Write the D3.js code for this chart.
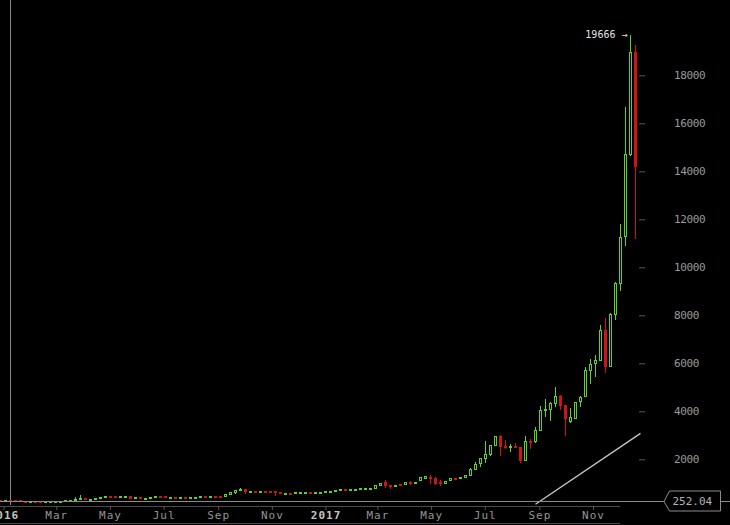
<!DOCTYPE html>
<html>
<head>
<meta charset="utf-8">
<script src="https://cdn.jsdelivr.net/npm/d3@7"></script>
<style>
  html, body { margin: 0; padding: 0; background: #000; }
  svg { display: block; }
</style>
</head>
<body>
<svg id="chart" width="730" height="525"></svg>
<script>
// ---- data (weekly candles, Bitstamp-style BTC/USD) ----
const firstWeek = new Date(Date.UTC(2015, 6, 13));
const lastWeek = new Date(Date.UTC(2017, 11, 18));
const weeks = d3.utcMonday.range(firstWeek, new Date(Date.UTC(2017, 11, 19)));

const open = [285,274,280,278,263,262,225,232,230,229,232,233,238,245,268,285,330,380,325,335,360,390,458,450,428,438,
  450,385,410,372,380,405,440,430,410,418,412,418,415,422,428,458,450,458,452,442,535,600,680,760,655,670,650,670,665,650,
  600,585,595,612,615,620,628,618,622,630,640,660,705,730,710,738,755,770,785,800,910,1020,915,890,930,940,1015,1000,1125,1192,
  1250,1215,1050,985,1105,1210,1195,1255,1340,1580,1820,2030,2180,2570,2960,2530,2495,2525,2510,1945,2750,2740,3220,4050,4090,4330,
  4630,4230,3560,3720,4390,4600,5690,5980,6130,7380,5880,8050,9330,11280,14720,18960];
const high = [295,282,298,282,270,268,236,236,245,236,238,240,248,270,285,415,525,390,345,370,400,465,470,465,440,465,
  460,420,415,395,410,445,445,440,420,422,420,425,425,430,462,468,465,462,458,545,610,690,795,770,700,700,690,680,670,660,
  605,600,600,630,635,630,632,632,640,650,660,725,745,735,750,765,780,795,810,930,1020,1140,920,925,935,1035,1095,1065,1240,1310,
  1355,1245,1140,1100,1225,1225,1265,1345,1625,1875,2070,2760,2600,2980,3010,2800,2625,2665,2530,2985,2845,3360,4220,4500,4400,5020,
  4680,4240,4120,4400,4650,5830,6180,6350,7600,7880,8100,9400,11800,16700,19666,19260];
const low = [268,270,276,258,257,200,200,225,228,222,226,232,235,244,264,280,320,305,315,330,355,385,430,415,418,425,
  360,355,375,365,370,400,405,395,405,405,405,410,412,418,425,440,445,445,435,438,520,575,670,555,620,585,645,645,640,480,
  580,570,570,600,605,605,610,612,615,625,630,650,690,690,700,725,745,760,775,795,890,795,760,870,900,930,930,985,1115,1180,
  985,940,900,975,1095,1160,1185,1245,1330,1560,1670,1860,2140,2540,2150,2430,2320,2460,1860,1935,2430,2700,3200,3780,3600,4160,
  4050,2980,3500,3700,4200,4580,5120,5420,6100,5580,5850,7800,9020,10900,14620,11190];
const close = [274,280,278,263,262,231,232,230,229,232,233,238,245,268,282,330,380,335,335,360,390,440,450,438,438,450,
  385,410,400,380,405,438,430,410,418,412,418,415,422,428,455,450,458,452,442,535,600,680,760,650,670,650,668,665,655,610,
  590,595,585,622,625,626,620,628,632,642,655,705,725,715,740,755,770,785,800,915,1005,915,848,915,920,1020,995,1050,1230,1300,
  1200,990,1030,1095,1210,1190,1250,1335,1555,1800,2030,2180,2580,2960,2530,2495,2520,2505,1945,2750,2720,3220,4050,4090,4330,4630,
  4230,3700,3730,4370,4590,5680,5940,6130,7380,5880,8050,9330,11230,14700,18960,14200];

const yTicks = [2000,4000,6000,8000,10000,12000,14000,16000,18000];
const xTickDates = [[2016,0],[2016,2],[2016,4],[2016,6],[2016,8],[2016,10],[2017,0],[2017,2],[2017,4],[2017,6],[2017,8],[2017,10]]
  .map(([yy,m]) => new Date(Date.UTC(yy, m, 1)));
const monthNames = ["Jan","Feb","Mar","Apr","May","Jun","Jul","Aug","Sep","Oct","Nov","Dec"];
const lastPrice = 252.04;
const trendStart = { date: new Date(Date.UTC(2017, 6, 31)), value: 125 };
const trendEnd = { date: new Date(Date.UTC(2017, 11, 25)), value: 3080 };

// ---- scales ----
const svg = d3.select("#chart");
const W = 730, H = 525;
svg.append("rect").attr("width", W).attr("height", H).attr("fill", "#000");

const x = d3.scaleUtc().domain([firstWeek, lastWeek]).range([0.5, 635.5]);
const y = d3.scaleLinear().domain([0, 18000]).range([507.3, 75.3]);
const xAxisScale = d3.scaleUtc()
  .domain([new Date(Date.UTC(2016,0,1)), new Date(Date.UTC(2017,10,1))])
  .range([3.5, 593]);

const data = weeks.map((d, i) => ({ date: d, o: open[i], h: high[i], l: low[i], c: close[i] }));

const mono = "'DejaVu Sans Mono', 'Liberation Mono', monospace";
const green = "#5fd12d", red = "#d0121b";

// vertical cursor line
svg.append("line").attr("x1", 10.5).attr("x2", 10.5).attr("y1", 0).attr("y2", 505)
  .attr("stroke", "#8a8a8a").attr("stroke-width", 1);

// candles
const cg = svg.append("g").attr("shape-rendering", "crispEdges");
const candle = cg.selectAll("g.c").data(data).join("g").attr("class", "c");
candle.append("line")
  .attr("x1", d => x(d.date)).attr("x2", d => x(d.date))
  .attr("y1", d => y(d.h)).attr("y2", d => y(d.l))
  .attr("stroke", d => d.c >= d.o ? green : red).attr("stroke-width", 1);
candle.each(function(d) {
  const g = d3.select(this);
  const cx = x(d.date);
  const bodyTop = y(Math.max(d.o, d.c)), bodyBot = y(Math.min(d.o, d.c));
  const hgt = Math.max(bodyBot - bodyTop, 1);
  if (d.c >= d.o) {
    g.append("rect").attr("x", cx - 1).attr("width", 2)
      .attr("y", bodyTop).attr("height", hgt)
      .attr("fill", "#000").attr("stroke", green).attr("stroke-width", 1);
  } else {
    g.append("rect").attr("x", cx - 1.5).attr("width", 3)
      .attr("y", bodyTop - 0.5).attr("height", hgt + 1)
      .attr("fill", red);
  }
});

// trend line
svg.append("line")
  .attr("x1", x(trendStart.date)).attr("y1", y(trendStart.value))
  .attr("x2", x(trendEnd.date)).attr("y2", y(trendEnd.value))
  .attr("stroke", "#c8c8c8").attr("stroke-width", 1.3);

// last price line and label
const py = Math.round(y(lastPrice)) + 0.5;
svg.append("line").attr("x1", 0).attr("x2", 664).attr("y1", py).attr("y2", py)
  .attr("stroke", "#8c8c8c").attr("stroke-width", 1);
svg.append("line").attr("x1", 721).attr("x2", 730).attr("y1", py).attr("y2", py)
  .attr("stroke", "#8c8c8c").attr("stroke-width", 1);
svg.append("path")
  .attr("d", `M664,${py} L669.5,${py - 10.5} L720.5,${py - 10.5} L720.5,${py + 9.5} L669.5,${py + 9.5} Z`)
  .attr("fill", "#000").attr("stroke", "#8c8c8c").attr("stroke-width", 1);
svg.append("text").attr("x", 672.5).attr("y", py + 3.5)
  .attr("font-family", mono).attr("font-size", 11).attr("fill", "#b4b4b4")
  .text(lastPrice.toFixed(2));

// y axis
const yAxis = d3.axisRight(y).tickValues(yTicks).tickSize(6).tickPadding(29).tickFormat(d3.format("d"));
const yg = svg.append("g").attr("transform", "translate(639,0)").call(yAxis);
yg.select(".domain").remove();
yg.selectAll(".tick line").attr("stroke", "#555");
yg.selectAll(".tick text").attr("fill", "#9a9a9a").attr("font-family", mono)
  .attr("font-size", 11).attr("letter-spacing", -0.4);

// x axis lines
svg.append("line").attr("x1", 0).attr("x2", 620).attr("y1", 506.5).attr("y2", 506.5).attr("stroke", "#4a4a4a");
svg.append("line").attr("x1", 0).attr("x2", 620).attr("y1", 523.5).attr("y2", 523.5).attr("stroke", "#4a4a4a");

const xAxis = d3.axisBottom(xAxisScale).tickValues(xTickDates).tickSize(4).tickPadding(1)
  .tickFormat(d => d.getUTCMonth() === 0 ? String(d.getUTCFullYear()) : monthNames[d.getUTCMonth()]);
const xg = svg.append("g").attr("transform", "translate(0,506)").call(xAxis);
xg.select(".domain").remove();
xg.selectAll(".tick line").attr("stroke", "#555");
xg.selectAll(".tick text").attr("font-family", mono).attr("font-size", 11).attr("letter-spacing", 1)
  .attr("fill", d => d.getUTCMonth() === 0 ? "#c4c4c4" : "#959595")
  .attr("font-weight", d => d.getUTCMonth() === 0 ? "bold" : "normal");

// high annotation
const peak = data.reduce((a, b) => (b.h > a.h ? b : a));
svg.append("text").attr("x", x(peak.date) - 3).attr("y", y(peak.h) + 3)
  .attr("text-anchor", "end").attr("font-family", mono).attr("font-size", 10)
  .attr("fill", "#e2e2e2").text(`${peak.h} \u2192`);
</script>
</body>
</html>
